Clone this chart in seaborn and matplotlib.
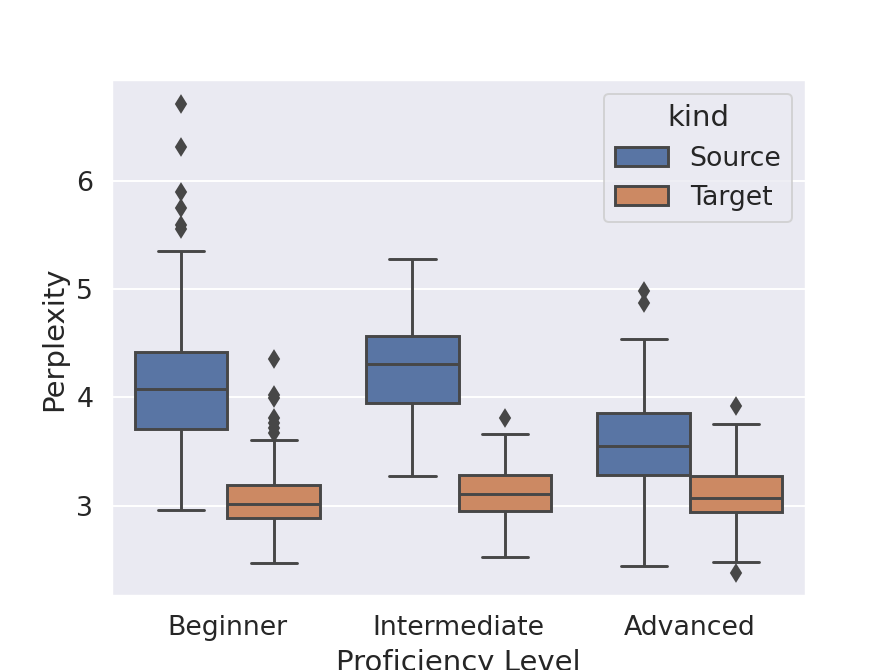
# plot.py
# Box plot of perplexity by proficiency level, source vs target.

import matplotlib
matplotlib.use("Agg")
import matplotlib.pyplot as plt
import seaborn as sns
import pandas as pd

# Summary statistics
levels = ["Beginner", "Intermediate", "Advanced"]
kinds = ["Source", "Target"]

# order: Beginner Source, Beginner Target, Intermediate Source, ...
whisker_low = [2.96, 2.47, 3.27, 2.53, 2.44, 2.48]
q1 = [3.71, 2.89, 3.95, 2.95, 3.28, 2.94]
median = [4.08, 3.02, 4.31, 3.11, 3.55, 3.07]
q3 = [4.42, 3.19, 4.57, 3.28, 3.86, 3.27]
whisker_high = [5.35, 3.61, 5.28, 3.66, 4.54, 3.75]
outliers = [
    [6.71, 6.31, 5.90, 5.75, 5.59, 5.55],
    [4.35, 4.02, 3.99, 3.81, 3.76, 3.72, 3.67],
    [],
    [3.81],
    [4.98, 4.87],
    [3.92, 2.38],
]

# Expand each summary into a sample that reproduces those quartiles
rows = []
i = 0
for level in levels:
    for kind in kinds:
        vals = ([whisker_low[i]] + [q1[i]] * 30 + [median[i]] * 30
                + [q3[i]] * 30 + [whisker_high[i]] + outliers[i])
        for v in vals:
            rows.append({"level": level, "kind": kind, "perplexity": v})
        i += 1
df = pd.DataFrame(rows)

sns.set_theme(style="darkgrid", font_scale=1.25)

fig, ax = plt.subplots(figsize=(895 / 140, 670 / 140), dpi=140)
line_gray = "#474747"
sns.boxplot(data=df, x="level", y="perplexity", hue="kind",
            order=levels, hue_order=kinds, ax=ax,
            saturation=0.75, width=0.8, gap=0,
            linewidth=1.5, linecolor=line_gray,
            flierprops=dict(marker="d", markersize=5.5,
                            markerfacecolor=line_gray,
                            markeredgecolor=line_gray))

ax.set_xlabel("Proficiency Level")
ax.set_ylabel("Perplexity")
ax.set_yticks([3, 4, 5, 6])
ax.legend(title="kind", loc="upper right")
sns.move_legend(ax, "upper right", title="kind")

fig.savefig("out.png", dpi=140)
